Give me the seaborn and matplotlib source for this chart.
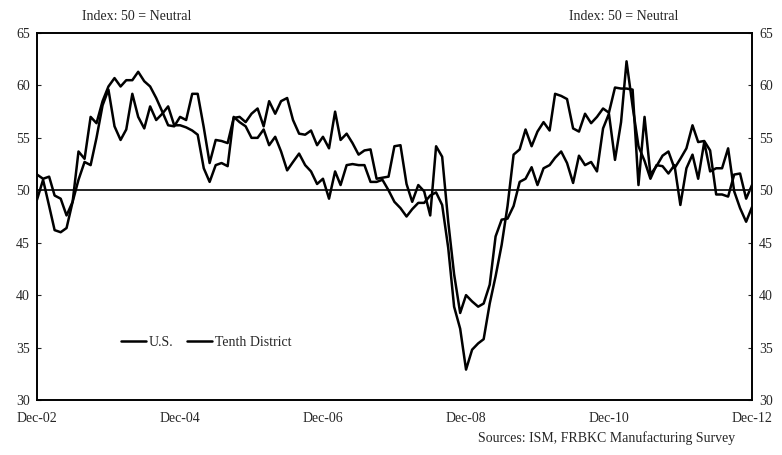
import pandas as pd
import numpy as np
import matplotlib
matplotlib.use("Agg")
import matplotlib.pyplot as plt
import matplotlib.dates as mdates
import seaborn as sns

# monthly readings, Dec-02 .. Dec-12 (121 months)
us = [49.1, 51.0, 48.5, 46.2, 46.0, 46.4, 48.9, 51.0, 52.7, 52.4,
      55.0, 58.1, 59.6, 56.1, 54.8, 55.8, 59.2, 57.0, 55.9, 58.0,
      56.7, 57.3, 58.0, 56.2, 56.2, 56.0, 55.7, 55.3, 52.1, 50.8,
      52.4, 52.6, 52.3, 57.0, 56.5, 56.1, 55.0, 55.0, 55.8, 54.3,
      55.1, 53.7, 51.9, 52.7, 53.5, 52.4, 51.8, 50.6, 51.1, 49.2,
      51.8, 50.5, 52.4, 52.5, 52.4, 52.4, 50.8, 50.8, 51.0, 50.0,
      48.9, 48.3, 47.5, 48.2, 48.8, 48.8, 49.5, 49.8, 48.6, 44.5,
      38.9, 36.8, 32.9, 34.8, 35.4, 35.8, 39.2, 41.8, 44.8, 48.5,
      53.4, 53.9, 55.8, 54.2, 55.6, 56.5, 55.7, 59.2, 59.0, 58.7,
      55.9, 55.6, 57.3, 56.4, 57.0, 57.8, 57.4, 59.8, 59.7, 59.7,
      59.6, 50.5, 57.0, 51.5, 52.3, 53.3, 53.7, 52.1, 53.0, 54.0,
      56.2, 54.6, 54.7, 53.8, 49.6, 49.6, 49.4, 51.5, 51.6, 49.2,
      50.5]

tenth = [51.5, 51.1, 51.3, 49.5, 49.2, 47.6, 48.9, 53.7, 53.0, 57.0,
         56.4, 58.5, 59.9, 60.7, 59.9, 60.5, 60.5, 61.3, 60.4, 59.9,
         58.8, 57.5, 56.2, 56.1, 57.0, 56.7, 59.2, 59.2, 56.0, 52.6,
         54.8, 54.7, 54.5, 56.9, 57.0, 56.5, 57.3, 57.8, 56.1, 58.5,
         57.3, 58.5, 58.8, 56.7, 55.4, 55.3, 55.7, 54.3, 55.1, 54.0,
         57.5, 54.8, 55.4, 54.5, 53.4, 53.8, 53.9, 51.1, 51.2, 51.3,
         54.2, 54.3, 50.6, 48.9, 50.5, 49.9, 47.6, 54.2, 53.2, 47.0,
         42.0, 38.3, 40.0, 39.4, 38.9, 39.2, 41.0, 45.6, 47.2, 47.3,
         48.5, 50.8, 51.1, 52.2, 50.5, 52.1, 52.4, 53.1, 53.7, 52.6,
         50.7, 53.3, 52.4, 52.7, 51.8, 55.9, 57.3, 52.9, 56.5, 62.3,
         58.0, 54.2, 52.8, 51.1, 52.4, 52.3, 51.6, 52.4, 48.6, 52.1,
         53.4, 51.1, 54.6, 51.8, 52.1, 52.1, 54.0, 49.9, 48.3, 47.0,
         48.4]

series_names = ["U.S.", "Tenth District"]
y_ticks = [30, 35, 40, 45, 50, 55, 60, 65]
x_labels = ["Dec-02", "Dec-04", "Dec-06", "Dec-08", "Dec-10", "Dec-12"]

dates = pd.date_range("2002-12-01", periods=len(us), freq="MS")
df = pd.DataFrame({"date": np.concatenate([dates, dates]),
                   "value": us + tenth,
                   "series": [series_names[0]] * len(us) + [series_names[1]] * len(tenth)})

sns.set_style("white")
plt.rcParams["font.family"] = ["Liberation Serif", "DejaVu Serif"]

fig = plt.figure(figsize=(7.82, 4.55), dpi=100)
ax = fig.add_axes([37 / 782, 1 - 400 / 455, 715 / 782, 367 / 455])

sns.lineplot(data=df, x="date", y="value", hue="series", palette=["black", "black"],
             linewidth=1.8, ax=ax)
ax.axhline(50, color="black", linewidth=1.2)

ax.set_ylim(30, 65)
ax.set_xlim(dates[0], dates[-1])
ax.set_yticks(y_ticks)
ax.set_xlabel("")
ax.set_ylabel("")

ax.xaxis.set_major_locator(mdates.YearLocator(base=2, month=12, day=1))
ax.xaxis.set_minor_locator(mdates.MonthLocator(bymonth=[3, 6, 9, 12]))
ax.set_xticklabels(x_labels)
ax.tick_params(axis="x", which="both", direction="in", length=5, width=0.8, labelsize=10, pad=9)
ax.tick_params(axis="y", direction="in", length=3, width=0.8, labelsize=10, pad=5)

ax2 = ax.twinx()
ax2.set_ylim(30, 65)
ax2.set_yticks(y_ticks)
ax2.tick_params(axis="y", direction="in", length=3, width=0.8, labelsize=10, pad=5)

for a in (ax, ax2):
    for sp in a.spines.values():
        sp.set_color("black")
        sp.set_linewidth(1.2)

ax.legend(loc="center left", bbox_to_anchor=(0.1, 0.158), ncol=2, frameon=False,
          handlelength=1.8, handletextpad=0.2, columnspacing=1.0, fontsize=10)

fig.text(137 / 782, 1 - 17 / 455, "Index: 50 = Neutral", ha="center", va="center", fontsize=10)
fig.text(624 / 782, 1 - 17 / 455, "Index: 50 = Neutral", ha="center", va="center", fontsize=10)
fig.text(735 / 782, 1 - 438 / 455, "Sources: ISM, FRBKC Manufacturing Survey", ha="right",
         va="center", fontsize=10)

fig.savefig("out.png", dpi=100)
